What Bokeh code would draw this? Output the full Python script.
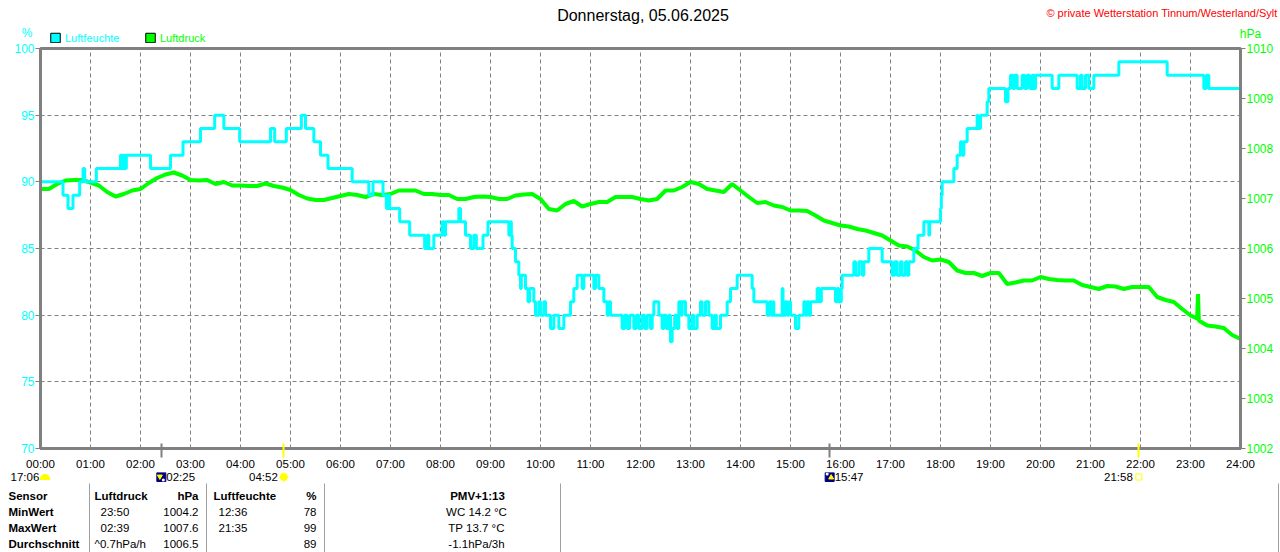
from bokeh.plotting import figure
from bokeh.models import Range1d, LinearAxis, FixedTicker, Grid, Plot
from bokeh.layouts import column
from bokeh.embed import file_html
from bokeh.resources import INLINE
from bokeh.core.properties import value

# ---------------- data ----------------
title_text = "Donnerstag, 05.06.2025"
copyright_text = "\u00a9 private Wetterstation Tinnum/Westerland/Sylt"
series_names = ["Luftfeuchte", "Luftdruck"]

hum_ticks = [70, 75, 80, 85, 90, 95, 100]
press_ticks = [1002, 1003, 1004, 1005, 1006, 1007, 1008, 1009, 1010]
hour_ticks = list(range(25))
hour_labels = ["%02d:00" % h for h in hour_ticks]

# humidity (%) change points: time, value
hum_times = [
    "00:00", "00:27", "00:33", "00:39", "00:47", "00:51", "00:53", "01:07", "01:36", "01:38",
    "01:40", "01:42", "01:43", "02:12", "02:36", "02:51", "03:12", "03:29", "03:40", "03:59",
    "04:36", "04:41", "04:55", "05:13", "05:18", "05:28", "05:36", "05:45", "06:14", "06:34",
    "06:39", "06:51", "06:55", "06:57", "06:59", "07:11", "07:23", "07:41", "07:44", "07:46",
    "07:52", "08:02", "08:04", "08:06", "08:22", "08:24", "08:30", "08:36", "08:40", "08:43",
    "08:51", "08:57", "09:22", "09:24", "09:25", "09:26", "09:30", "09:34", "09:36", "09:37",
    "09:42", "09:45", "09:47", "09:52", "09:54", "09:58", "10:00", "10:04", "10:06", "10:12",
    "10:16", "10:22", "10:28", "10:36", "10:40", "10:44", "10:50", "10:52", "11:04", "11:06",
    "11:10", "11:16", "11:20", "11:22", "11:24", "11:38", "11:41", "11:44", "11:47", "11:52",
    "11:55", "11:58", "12:02", "12:05", "12:08", "12:12", "12:14", "12:16", "12:22", "12:26",
    "12:28", "12:31", "12:34", "12:36", "12:38", "12:41", "12:44", "12:46", "12:49", "12:50",
    "12:54", "12:58", "13:02", "13:04", "13:08", "13:12", "13:14", "13:18", "13:22", "13:26",
    "13:29", "13:31", "13:36", "13:44", "13:48", "13:56", "14:14", "14:16", "14:32", "14:35",
    "14:37", "14:39", "14:40", "14:50", "14:51", "14:54", "14:56", "14:58", "15:00", "15:06",
    "15:10", "15:16", "15:18", "15:20", "15:22", "15:24", "15:32", "15:35", "15:37", "15:54",
    "15:56", "15:58", "16:01", "16:02", "16:16", "16:18", "16:22", "16:26", "16:28", "16:34",
    "16:50", "17:02", "17:05", "17:08", "17:12", "17:14", "17:18", "17:20", "17:22", "17:28",
    "17:33", "17:40", "17:46", "17:47", "18:00", "18:01", "18:02", "18:16", "18:20", "18:24",
    "18:26", "18:28", "18:32", "18:44", "18:45", "18:48", "18:56", "18:58", "19:18", "19:21",
    "19:24", "19:27", "19:29", "19:32", "19:38", "19:41", "19:44", "19:47", "19:50", "19:52",
    "19:54", "20:14", "20:22", "20:44", "20:48", "20:50", "20:54", "20:58", "21:04", "21:34",
    "22:32", "23:16", "23:19", "23:22", "24:00",
]
hum_vals = [
    90, 89, 88, 89, 90, 91, 90, 91, 92, 91,
    92, 91, 92, 91, 92, 93, 94, 95, 94, 93,
    94, 93, 94, 95, 94, 93, 92, 91, 90, 89,
    90, 89, 88, 89, 88, 87, 86, 85, 86, 85,
    86, 87, 86, 87, 88, 87, 86, 85, 86, 85,
    86, 87, 86, 87, 86, 85, 84, 83, 82, 83,
    82, 81, 82, 81, 80, 81, 80, 81, 80, 79,
    80, 79, 80, 81, 82, 83, 82, 83, 82, 83,
    82, 81, 80, 81, 80, 79, 80, 79, 80, 79,
    80, 79, 80, 79, 80, 79, 80, 81, 80, 79,
    80, 79, 80, 78, 79, 80, 79, 81, 80, 81,
    80, 79, 80, 79, 80, 81, 80, 81, 80, 79,
    80, 79, 80, 81, 82, 83, 82, 81, 80, 81,
    80, 81, 80, 82, 80, 81, 80, 81, 80, 79,
    80, 81, 80, 81, 80, 81, 82, 81, 82, 81,
    82, 81, 82, 83, 84, 83, 84, 83, 84, 85,
    84, 83, 84, 83, 84, 83, 84, 83, 84, 85,
    86, 87, 86, 87, 88, 89, 90, 91, 92, 93,
    92, 93, 94, 95, 94, 95, 96, 97, 96, 97,
    98, 97, 98, 97, 98, 97, 98, 97, 98, 97,
    98, 97, 98, 97, 98, 97, 98, 97, 98, 99,
    98, 97, 98, 97, 97,
]

# air pressure (hPa)
press_times = [
    "00:00", "00:10", "00:20", "00:30", "00:40", "00:50", "01:00", "01:10", "01:20", "01:30",
    "01:40", "01:50", "02:00", "02:10", "02:20", "02:30", "02:40", "02:50", "03:00", "03:10",
    "03:20", "03:30", "03:40", "03:50", "04:00", "04:10", "04:20", "04:30", "04:40", "04:50",
    "05:00", "05:10", "05:20", "05:30", "05:40", "05:50", "06:00", "06:10", "06:20", "06:30",
    "06:40", "06:50", "07:00", "07:10", "07:20", "07:30", "07:40", "07:50", "08:00", "08:10",
    "08:20", "08:30", "08:40", "08:50", "09:00", "09:10", "09:20", "09:30", "09:40", "09:50",
    "10:00", "10:10", "10:20", "10:30", "10:40", "10:50", "11:00", "11:10", "11:20", "11:30",
    "11:40", "11:50", "12:00", "12:10", "12:20", "12:30", "12:40", "12:50", "13:00", "13:10",
    "13:20", "13:30", "13:40", "13:50", "14:00", "14:10", "14:20", "14:30", "14:40", "14:50",
    "15:00", "15:10", "15:20", "15:30", "15:40", "15:50", "16:00", "16:10", "16:20", "16:30",
    "16:40", "16:50", "17:00", "17:10", "17:20", "17:30", "17:40", "17:50", "18:00", "18:10",
    "18:20", "18:30", "18:40", "18:50", "19:00", "19:10", "19:20", "19:30", "19:40", "19:50",
    "20:00", "20:10", "20:20", "20:30", "20:40", "20:50", "21:00", "21:10", "21:20", "21:30",
    "21:40", "21:50", "22:00", "22:10", "22:20", "22:30", "22:40", "22:50", "23:00", "23:08",
    "23:09", "23:10", "23:20", "23:30", "23:40", "23:50", "24:00",
]
press_vals = [
    1007.19, 1007.19, 1007.29, 1007.36, 1007.37, 1007.37, 1007.32, 1007.26, 1007.13, 1007.04,
    1007.09, 1007.16, 1007.19, 1007.31, 1007.41, 1007.48, 1007.52, 1007.46, 1007.37, 1007.36,
    1007.37, 1007.29, 1007.33, 1007.26, 1007.26, 1007.25, 1007.25, 1007.30, 1007.25, 1007.22,
    1007.17, 1007.07, 1007.00, 1006.97, 1006.97, 1007.01, 1007.05, 1007.09, 1007.07, 1007.03,
    1007.09, 1007.07, 1007.09, 1007.16, 1007.16, 1007.16, 1007.09, 1007.09, 1007.07, 1007.07,
    1006.99, 1006.99, 1007.03, 1007.04, 1007.03, 1006.99, 1006.99, 1007.06, 1007.08, 1007.09,
    1006.99, 1006.79, 1006.76, 1006.89, 1006.95, 1006.84, 1006.89, 1006.93, 1006.93, 1007.03,
    1007.03, 1007.03, 1006.99, 1006.96, 1006.99, 1007.16, 1007.16, 1007.23, 1007.33, 1007.29,
    1007.19, 1007.16, 1007.13, 1007.29, 1007.16, 1007.03, 1006.91, 1006.93, 1006.86, 1006.83,
    1006.76, 1006.76, 1006.75, 1006.66, 1006.56, 1006.51, 1006.46, 1006.44, 1006.39, 1006.36,
    1006.31, 1006.26, 1006.16, 1006.06, 1006.04, 1005.96, 1005.83, 1005.76, 1005.78, 1005.73,
    1005.56, 1005.51, 1005.51, 1005.45, 1005.51, 1005.51, 1005.29, 1005.32, 1005.36, 1005.36,
    1005.43, 1005.39, 1005.37, 1005.36, 1005.36, 1005.27, 1005.23, 1005.19, 1005.25, 1005.24,
    1005.19, 1005.23, 1005.23, 1005.23, 1005.03, 1004.97, 1004.93, 1004.79, 1004.66, 1004.60,
    1005.09, 1004.56, 1004.46, 1004.44, 1004.41, 1004.27, 1004.19,
]

# astronomical events below the time axis
prev_event_time = "17:06"
event_times = ["02:25", "04:52", "15:47", "21:58"]
event_kinds = ["moonset", "sunrise", "moonrise", "sunset"]

# statistics table
row_labels = ["Sensor", "MinWert", "MaxWert", "Durchschnitt"]
press_header = ["Luftdruck", "hPa"]
hum_header = ["Luftfeuchte", "%"]
extra_header = "PMV+1:13"
press_time_col = ["23:50", "02:39"]
press_trend_text = "^0.7hPa/h"
press_val_col = ["1004.2", "1007.6", "1006.5"]
hum_time_col = ["12:36", "21:35"]
hum_val_col = ["78", "99", "89"]
extra_col = ["WC 14.2 \u00b0C", "TP 13.7 \u00b0C", "-1.1hPa/3h"]


def hm(s):
    h, m = s.split(":")
    return int(h) + int(m) / 60.0


hum_x = [hm(t) for t in hum_times]
press_x = [hm(t) for t in press_times]
ev_x = [hm(t) for t in event_times]
moon_x = [x for x, k in zip(ev_x, event_kinds) if k.startswith("moon")]
sun_x = [x for x, k in zip(ev_x, event_kinds) if k.startswith("sun")]

FONT = "Liberation Sans"
CYAN = "#00ffff"
GREEN = "#00ff00"
GRAY = "#808080"
YELLOW = "#ffff00"

W = 1280
HAS_ALIGN = "frame_align" in Plot.properties()


def fig(**kw):
    if HAS_ALIGN:
        kw["frame_align"] = False
    return figure(toolbar_location=None, output_backend="svg", **kw)


# ---------------- header ----------------
HH = 43
h = fig(frame_width=W, frame_height=HH, x_range=Range1d(0, W), y_range=Range1d(HH, 0),
        min_border=0, x_axis_location=None, y_axis_location=None, outline_line_color=None)
h.grid.grid_line_color = None
h.text(x=[642.5], y=[15], text=[title_text], text_align="center", text_baseline="middle",
       text_font=value(FONT), text_font_size="16px", text_color="black")
h.text(x=[1277], y=[12.5], text=[copyright_text], text_align="right", text_baseline="middle",
       text_font=value(FONT), text_font_size="11px", text_color="#ff0000")
h.text(x=[26.7], y=[32], text=["%"], text_align="center", text_baseline="middle",
       text_font=value(FONT), text_font_size="12px", text_color=CYAN)
h.text(x=[1250], y=[33], text=["hPa"], text_align="center", text_baseline="middle",
       text_font=value(FONT), text_font_size="12px", text_color=GREEN)
h.rect(x=[55, 150], y=[37.5, 37.5], width=9.5, height=9.5, fill_color=[CYAN, GREEN],
       line_color="black", line_width=1)
h.text(x=[64.5, 159.5], y=[37.5, 37.5], text=series_names, text_align="left",
       text_baseline="middle", text_font=value(FONT), text_font_size="11px",
       text_color=[CYAN, GREEN])

# ---------------- main chart ----------------
p = fig(frame_width=1200, frame_height=400, x_range=Range1d(0, 24), y_range=Range1d(70, 100),
        min_border_left=40, min_border_right=40, min_border_top=48 - HH, min_border_bottom=21,
        x_axis_location=None, y_axis_location="left")
p.center = [r for r in p.center if not (isinstance(r, Grid) and r.dimension == 0)]
p.extra_y_ranges = {"p": Range1d(1002, 1010)}
p.outline_line_color = GRAY
p.outline_line_width = 3
p.outline_line_alpha = 1.0

p.yaxis.ticker = FixedTicker(ticks=hum_ticks)
raxis = LinearAxis(y_range_name="p", ticker=FixedTicker(ticks=press_ticks))
p.add_layout(raxis, "right")

# axis carrying the rise/set marks (moon: major ticks, sun: minor ticks), no labels drawn
ev_axis = LinearAxis(ticker=FixedTicker(ticks=moon_x, minor_ticks=sun_x))
ev_axis.axis_line_color = GRAY
ev_axis.axis_line_width = 3
ev_axis.major_tick_line_color = GRAY
ev_axis.major_tick_line_width = 2
ev_axis.major_tick_in = 5
ev_axis.major_tick_out = 9
ev_axis.minor_tick_line_color = YELLOW
ev_axis.minor_tick_line_width = 2
ev_axis.minor_tick_in = 5
ev_axis.minor_tick_out = 9
ev_axis.major_label_text_color = None
ev_axis.major_label_text_alpha = 0
ev_axis.major_label_text_font_size = "1px"
ev_axis.major_label_standoff = 0
p.add_layout(ev_axis, "below")

hour_ticker = FixedTicker(ticks=hour_ticks)
hour_axis = LinearAxis(ticker=hour_ticker)
hour_axis.major_label_overrides = {t: l for t, l in zip(hour_ticks, hour_labels)}
hour_axis.axis_line_color = None
hour_axis.major_tick_line_color = None
hour_axis.major_tick_in = 0
hour_axis.major_tick_out = 0
hour_axis.minor_tick_line_color = None
hour_axis.major_label_standoff = 0
hour_axis.major_label_text_font = FONT
hour_axis.major_label_text_font_size = "11.5px"
hour_axis.major_label_text_color = "black"
p.add_layout(hour_axis, "below")

p.add_layout(Grid(dimension=0, ticker=hour_ticker, grid_line_color=GRAY,
                  grid_line_dash="4 3"), "center")

for ax in [p.yaxis[0], raxis]:
    ax.axis_line_color = GRAY
    ax.axis_line_width = 3
    ax.major_tick_line_color = GRAY
    ax.major_tick_line_width = 1
    ax.major_tick_in = 0
    ax.major_tick_out = 5
    ax.major_label_standoff = 1
    ax.minor_tick_line_color = None
    ax.major_label_text_font = FONT
    ax.major_label_text_font_size = "12px"
p.yaxis[0].major_label_text_color = CYAN
raxis.major_label_text_color = GREEN

p.ygrid.grid_line_color = GRAY
p.ygrid.grid_line_dash = "4 3"

p.line(press_x, press_vals, y_range_name="p", line_color=GREEN, line_width=4)
p.step(hum_x, hum_vals, mode="after", line_color=CYAN, line_width=3)

# ---------------- bottom table ----------------
TOP = 470
tb = fig(frame_width=W, frame_height=551 - TOP, x_range=Range1d(0, W),
         y_range=Range1d(551, TOP), extra_x_ranges={"hours": Range1d(-0.8, 24.8)},
         min_border=0, x_axis_location=None, y_axis_location=None, outline_line_color=None)
tb.grid.grid_line_color = None

EV_Y = 474.5
TS = "11.5px"
tb.text(x=[10], y=[EV_Y], text=[prev_event_time], text_align="left", text_baseline="middle",
        text_font=value(FONT), text_font_size=TS, text_color="black")
tb.wedge(x=[0.09], y=[EV_Y + 2.5], radius=5, radius_units="screen", start_angle=0,
         end_angle=3.14159, fill_color=YELLOW, line_color=YELLOW, x_range_name="hours")

for t, k, s in zip(ev_x, event_kinds, event_times):
    if k.startswith("moon"):
        tb.scatter([t], [EV_Y], marker="square", size=9, fill_color="#000080",
                   line_color="#000080", x_range_name="hours")
        if k == "moonset":
            tb.scatter([t - 0.03], [EV_Y - 0.5], marker="inverted_triangle", size=5,
                       fill_color=YELLOW, line_color=YELLOW, x_range_name="hours")
            tb.scatter([t + 0.04], [EV_Y + 3], marker="circle", size=3, fill_color="white",
                       line_color=None, x_range_name="hours")
        else:
            tb.scatter([t + 0.03], [EV_Y + 0.5], marker="triangle", size=5,
                       fill_color=YELLOW, line_color=YELLOW, x_range_name="hours")
            tb.scatter([t - 0.05], [EV_Y - 3], marker="circle", size=3, fill_color="white",
                       line_color=None, x_range_name="hours")
        tb.text(x=[t], y=[EV_Y], text=[s], x_offset=5, text_align="left", text_baseline="middle",
                text_font=value(FONT), text_font_size=TS, text_color="black",
                x_range_name="hours")
    elif k == "sunrise":
        tb.scatter([t], [EV_Y], marker="asterisk", size=11, line_color="#ffff66",
                   line_width=1, x_range_name="hours")
        tb.scatter([t], [EV_Y], marker="circle", size=7, fill_color=YELLOW,
                   line_color=YELLOW, x_range_name="hours")
        tb.text(x=[t], y=[EV_Y], text=[s], x_offset=-6, text_align="right",
                text_baseline="middle", text_font=value(FONT), text_font_size=TS,
                text_color="black", x_range_name="hours")
    else:
        tb.scatter([t], [EV_Y], marker="square", size=6, fill_color=None,
                   line_color=YELLOW, line_width=1, x_range_name="hours")
        tb.text(x=[t], y=[EV_Y], text=[s], x_offset=-6, text_align="right",
                text_baseline="middle", text_font=value(FONT), text_font_size=TS,
                text_color="black", x_range_name="hours")

sep_x = [89, 206, 324, 560, 1278]
tb.segment(x0=sep_x, y0=[481] * len(sep_x), x1=sep_x, y1=[551] * len(sep_x),
           line_color="#a0a0a0", line_width=1)

row_y = [493, 509, 525, 541]


def txt(xs, ys, texts, align, bold=False):
    tb.text(x=xs, y=ys, text=texts, text_align=align, text_baseline="middle",
            text_font=value(FONT), text_font_size=TS, text_color="black",
            text_font_style="bold" if bold else "normal")


txt([8] * 4, row_y, row_labels, "left", bold=True)
txt([94], [row_y[0]], [press_header[0]], "left", bold=True)
txt([198], [row_y[0]], [press_header[1]], "right", bold=True)
txt([213], [row_y[0]], [hum_header[0]], "left", bold=True)
txt([316], [row_y[0]], [hum_header[1]], "right", bold=True)
txt([477], [row_y[0]], [extra_header], "center", bold=True)
txt([100, 100], row_y[1:3], press_time_col, "left")
txt([94], [row_y[3]], [press_trend_text], "left")
txt([198] * 3, row_y[1:], press_val_col, "right")
txt([218, 218], row_y[1:3], hum_time_col, "left")
txt([316] * 3, row_y[1:], hum_val_col, "right")
txt([476] * 3, row_y[1:], extra_col, "center")

layout = column(h, p, tb, spacing=0)
open("out.html", "w").write(file_html(layout, INLINE))
